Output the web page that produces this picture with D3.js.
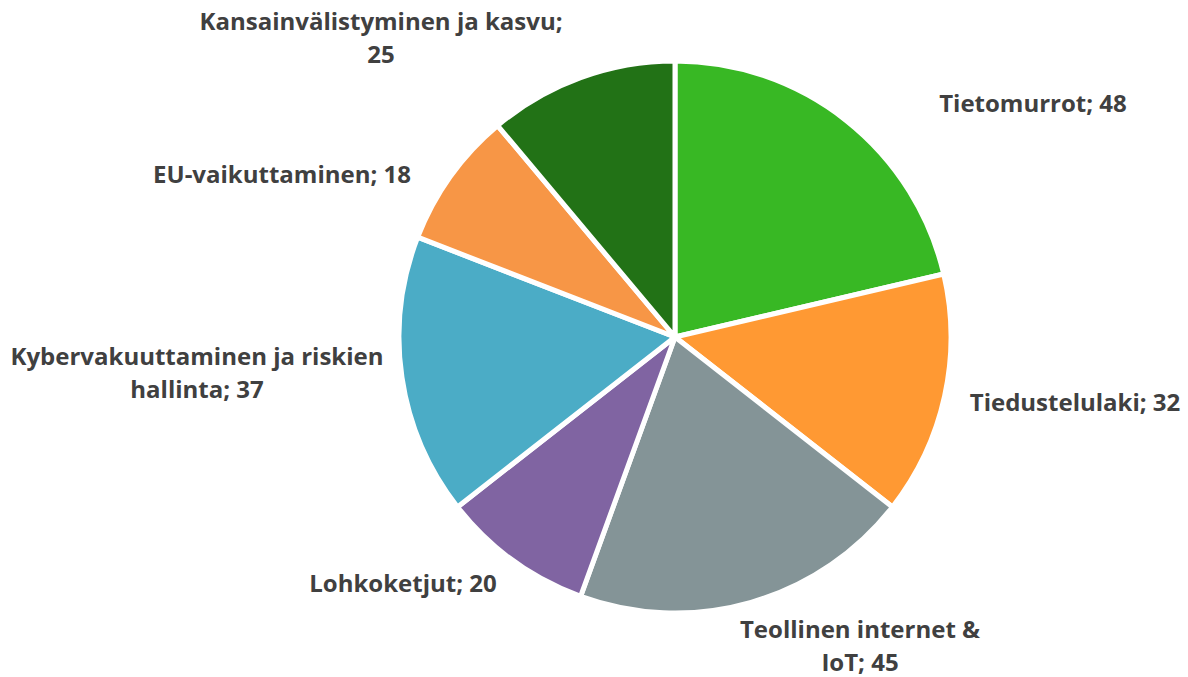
<!DOCTYPE html>
<html>
<head>
<meta charset="utf-8">
<script src="https://cdn.jsdelivr.net/npm/d3@7"></script>
<style>
  body { margin: 0; background: #fff; }
  svg text { font-family: "Open Sans", "Lato", sans-serif; font-weight: bold; fill: #404040; }
</style>
</head>
<body>
<svg width="1188" height="677"></svg>
<script>
// categories and values, clockwise from 12 o'clock
const categories = ["Tietomurrot", "Tiedustelulaki", "Teollinen internet & IoT", "Lohkoketjut",
  "Kybervakuuttaminen ja riskien hallinta", "EU-vaikuttaminen", "Kansainvälistyminen ja kasvu"]
const values = [48, 32, 45, 20, 37, 18, 25]

// label lines as Excel wraps them
const labelLines = [
  ["Tietomurrot; 48"],
  ["Tiedustelulaki; 32"],
  ["Teollinen internet &", "IoT; 45"],
  ["Lohkoketjut; 20"],
  ["Kybervakuuttaminen ja riskien", "hallinta; 37"],
  ["EU-vaikuttaminen; 18"],
  ["Kansainvälistyminen ja kasvu;", "25"]
]

const colors = ["#38b824", "#ff9933", "#849497", "#8064a2", "#4bacc6", "#f79646", "#227216"]

// label centre positions (best fit, as in the original)
const labelPos = [[1033, 104], [1075, 403], [860, 630], [403, 584], [197, 357], [282, 175], [381, 22]]

const svg = d3.select("svg")
const cx = 675, cy = 337, radius = 276

const pie = d3.pie().sort(null).value(d => d)
const arc = d3.arc().innerRadius(0).outerRadius(radius)

const g = svg.append("g").attr("transform", `translate(${cx},${cy})`)

g.selectAll("path")
  .data(pie(values))
  .enter()
  .append("path")
  .attr("d", arc)
  .attr("fill", (d, i) => colors[i])
  .attr("stroke", "#fff")
  .attr("stroke-width", 5)
  .attr("stroke-linejoin", "round")

const labels = svg.selectAll("text.lbl")
  .data(labelLines)
  .enter()
  .append("text")
  .attr("class", "lbl")
  .attr("text-anchor", "middle")
  .attr("font-size", 24)
  .attr("transform", (d, i) => `translate(${labelPos[i][0]},${labelPos[i][1]})`)

labels.selectAll("tspan")
  .data(d => d)
  .enter()
  .append("tspan")
  .attr("x", 0)
  .attr("y", (d, i) => i * 33)
  .attr("dy", "0.35em")
  .text(d => d)
</script>
</body>
</html>
